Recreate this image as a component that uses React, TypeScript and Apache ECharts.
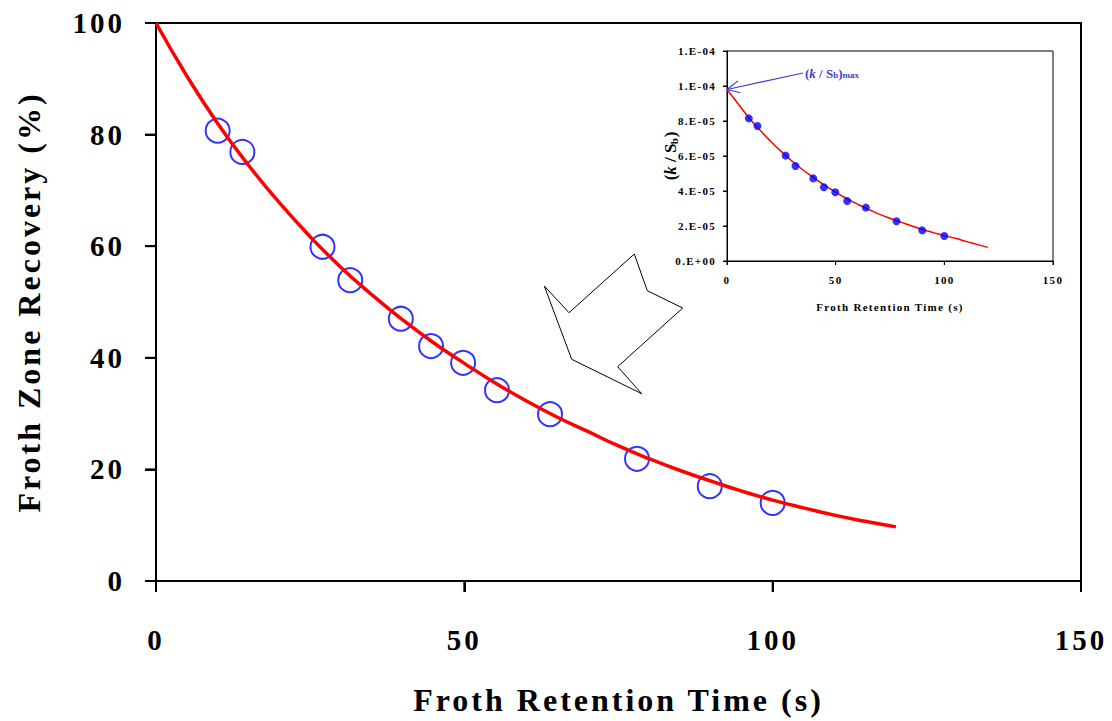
import React, { useEffect, useRef } from "react";
import * as echarts from "echarts";

// Measured points (shared retention times)
const pointTimes = [10, 14, 27, 31.5, 39.7, 44.6, 49.8, 55.3, 63.9, 78, 89.8, 100];
const recoveryPoints = [80.7, 76.9, 59.9, 53.9, 47, 42.1, 39.1, 34.2, 29.9, 21.9, 17, 14];
const kSbPoints = [8.15e-5, 7.71e-5, 6.02e-5, 5.43e-5, 4.72e-5, 4.21e-5, 3.93e-5, 3.43e-5, 3.05e-5, 2.27e-5, 1.75e-5, 1.43e-5];

// Fitted curves
const curveTimes = [0, 5, 10, 15, 20, 25, 30, 35, 40, 45, 50, 55, 60, 65, 70, 75, 80, 85, 90, 95, 100, 105, 110, 115, 120];
const recoveryCurve = [100, 90.5, 82, 74.5, 67.8, 61.7, 56.2, 51.3, 46.8, 42.7, 39, 35.5, 32.3, 29.4, 26.8, 24.2, 21.9, 19.8, 17.9, 16.1, 14.5, 13.1, 11.8, 10.7, 9.7];
const kSbCurve = [9.8e-5, 9.0e-5, 8.2e-5, 7.5e-5, 6.85e-5, 6.25e-5, 5.7e-5, 5.2e-5, 4.75e-5, 4.32e-5, 3.93e-5, 3.57e-5, 3.25e-5, 2.95e-5, 2.68e-5, 2.44e-5, 2.22e-5, 2.0e-5, 1.8e-5, 1.62e-5, 1.45e-5, 1.3e-5, 1.12e-5, 0.95e-5, 0.78e-5];

// Tick values
const xTicks = [0, 50, 100, 150];
const mainYTicks = [0, 20, 40, 60, 80, 100];
const insetYTicks = [0, 2e-5, 4e-5, 6e-5, 8e-5, 1e-4, 1.2e-4];

const xTitle = "Froth Retention Time (s)";
const yTitle = "Froth Zone Recovery (%)";

const FONT = "'Liberation Serif', 'Times New Roman', serif";

function fmtExp(v: number): string {
  const s = v.toExponential(0);
  const [m, e] = s.split("e");
  const n = parseInt(e, 10);
  const abs = Math.abs(n);
  return `${m}.E${n < 0 ? "-" : "+"}${abs < 10 ? "0" + abs : abs}`;
}

export default function App() {
  const ref = useRef<HTMLDivElement>(null);
  useEffect(() => {
    if (!ref.current) return;
    const chart = echarts.init(ref.current, undefined, { renderer: "svg" });
    const richK = {
      p: { fontFamily: FONT, fontWeight: "bold", fontSize: 17, color: "#000" },
      i: { fontFamily: FONT, fontWeight: "bold", fontStyle: "italic", fontSize: 17, color: "#000" },
      s: { fontFamily: FONT, fontWeight: "bold", fontSize: 11, color: "#000", verticalAlign: "bottom", lineHeight: 8 },
    };
    const option: any = {
      animation: false,
      backgroundColor: "#fff",
      grid: [
        { left: 156, top: 23, width: 925, height: 558, outerBoundsMode: "none", containLabel: false, show: true, borderColor: "#000", borderWidth: 2, backgroundColor: "transparent" },
        { left: 727, top: 51, width: 326, height: 210, outerBoundsMode: "none", containLabel: false, show: true, borderColor: "#000", borderWidth: 1, backgroundColor: "#fff", z: 5 },
      ],
      xAxis: [
        {
          type: "value", gridIndex: 0, min: 0, max: 150, interval: 50,
          name: xTitle, nameLocation: "middle", nameGap: 103,
          nameTextStyle: { fontFamily: FONT, fontWeight: "bold", fontSize: 32, color: "#000" },
          axisLine: { onZero: false, lineStyle: { color: "#000", width: 2 } },
          axisTick: { show: true, inside: false, length: 11, lineStyle: { color: "#000", width: 2 } },
          axisLabel: { margin: 44, fontFamily: FONT, fontWeight: "bold", fontSize: 29, color: "#000" },
          splitLine: { show: false },
        },
        {
          type: "value", gridIndex: 1, min: 0, max: 150, interval: 50, z: 6,
          name: xTitle, nameLocation: "middle", nameGap: 40,
          nameTextStyle: { fontFamily: FONT, fontWeight: "bold", fontSize: 11, color: "#000" },
          axisLine: { onZero: false, lineStyle: { color: "#000", width: 1 } },
          axisTick: { show: true, inside: false, length: 4, lineStyle: { color: "#000", width: 1 } },
          axisLabel: { margin: 13, fontFamily: FONT, fontWeight: "bold", fontSize: 11, color: "#000" },
          splitLine: { show: false },
        },
      ],
      yAxis: [
        {
          type: "value", gridIndex: 0, min: 0, max: 100, interval: 20,
          name: yTitle, nameLocation: "middle", nameGap: 111,
          nameTextStyle: { fontFamily: FONT, fontWeight: "bold", fontSize: 32, color: "#000" },
          axisLine: { onZero: false, lineStyle: { color: "#000", width: 2 } },
          axisTick: { show: true, inside: false, length: 11, lineStyle: { color: "#000", width: 2 } },
          axisLabel: { margin: 31, fontFamily: FONT, fontWeight: "bold", fontSize: 29, color: "#000" },
          splitLine: { show: false },
        },
        {
          type: "value", gridIndex: 1, min: 0, max: 1.2e-4, interval: 2e-5, z: 6,
          name: "{p|(}{i|k}{p| / S}{s|b}{p|)}", nameLocation: "middle", nameGap: 29,
          nameTextStyle: { fontFamily: FONT, fontWeight: "bold", fontSize: 17, color: "#000", rich: richK },
          axisLine: { onZero: false, lineStyle: { color: "#000", width: 1 } },
          axisTick: { show: true, inside: false, length: 4, lineStyle: { color: "#000", width: 1 } },
          axisLabel: { margin: 11, fontFamily: FONT, fontWeight: "bold", fontSize: 11, color: "#000", formatter: (v: number) => fmtExp(v) },
          splitLine: { show: false },
        },
      ],
      series: [
        {
          type: "scatter", xAxisIndex: 0, yAxisIndex: 0, z: 2,
          data: pointTimes.map((t, i) => [t, recoveryPoints[i]]),
          symbol: "circle", symbolSize: 24,
          itemStyle: { color: "rgba(0,0,0,0)", borderColor: "#0000ff", borderWidth: 2 },
        },
        {
          type: "line", xAxisIndex: 0, yAxisIndex: 0, z: 3,
          data: curveTimes.map((t, i) => [t, recoveryCurve[i]]),
          showSymbol: false, smooth: true,
          lineStyle: { color: "#ff0000", width: 3.5 },
        },
        {
          type: "line", xAxisIndex: 1, yAxisIndex: 1, z: 7,
          data: curveTimes.map((t, i) => [t, kSbCurve[i]]),
          showSymbol: false, smooth: true,
          lineStyle: { color: "#ff0000", width: 1.5 },
        },
        {
          type: "scatter", xAxisIndex: 1, yAxisIndex: 1, z: 8,
          data: pointTimes.map((t, i) => [t, kSbPoints[i]]),
          symbol: "circle", symbolSize: 8,
          itemStyle: { color: "#0000ff" },
        },
      ],
    };
    chart.setOption(option);

    // Tick marks computed through the axes' own scales
    const ticks: any[] = [];
    xTicks.forEach((v) => {
      const p = chart.convertToPixel({ gridIndex: 0 } as any, [v, 0]) as number[];
      ticks.push({ type: "line", z: 15, shape: { x1: p[0], y1: p[1], x2: p[0], y2: p[1] + 11 }, style: { stroke: "#000", lineWidth: 2 } });
      const q = chart.convertToPixel({ gridIndex: 1 } as any, [v, 0]) as number[];
      ticks.push({ type: "line", z: 15, shape: { x1: q[0], y1: q[1], x2: q[0], y2: q[1] + 4 }, style: { stroke: "#000", lineWidth: 1 } });
    });
    mainYTicks.forEach((v) => {
      const p = chart.convertToPixel({ gridIndex: 0 } as any, [0, v]) as number[];
      ticks.push({ type: "line", z: 15, shape: { x1: p[0] - 11, y1: p[1], x2: p[0], y2: p[1] }, style: { stroke: "#000", lineWidth: 2 } });
    });
    insetYTicks.forEach((v) => {
      const q = chart.convertToPixel({ gridIndex: 1 } as any, [0, v]) as number[];
      ticks.push({ type: "line", z: 15, shape: { x1: q[0] - 4, y1: q[1], x2: q[0], y2: q[1] }, style: { stroke: "#000", lineWidth: 1 } });
    });

    const target = chart.convertToPixel({ gridIndex: 1 } as any, [0, kSbCurve[0]]) as number[];
    const start = [803, 73];
    const dx = target[0] - start[0];
    const dy = target[1] - start[1];
    const len = Math.sqrt(dx * dx + dy * dy);
    const ux = dx / len, uy = dy / len;
    const head = (ang: number) => {
      const c = Math.cos(ang), s = Math.sin(ang);
      const bx = -(ux * c - uy * s), by = -(ux * s + uy * c);
      return [target[0] + bx * 14, target[1] + by * 14];
    };
    const h1 = head(0.45), h2 = head(-0.45);
    const blue = "#3c3cd6";
    chart.setOption({
      graphic: [
        ...ticks,
        {
          type: "polygon", z: 10,
          shape: { points: [[634.3, 254], [647.3, 290.7], [682.7, 308], [617.7, 366.7], [641.7, 393.7], [571.7, 359.3], [544.3, 286], [569, 312.7]] },
          style: { fill: "none", stroke: "#000", lineWidth: 1 },
        },
        { type: "line", z: 20, shape: { x1: start[0], y1: start[1], x2: target[0], y2: target[1] }, style: { stroke: blue, lineWidth: 1.2 } },
        { type: "polyline", z: 20, shape: { points: [h1, target, h2] }, style: { stroke: blue, fill: "none", lineWidth: 1.2 } },
        {
          type: "text", z: 20, x: 805, y: 73,
          style: {
            text: "{p|(}{i|k}{p| / S}{s|b}{p|)}{s|max}",
            verticalAlign: "middle",
            rich: {
              p: { fontFamily: FONT, fontWeight: "bold", fontSize: 13, fill: blue },
              i: { fontFamily: FONT, fontWeight: "bold", fontStyle: "italic", fontSize: 13, fill: blue },
              s: { fontFamily: FONT, fontWeight: "bold", fontSize: 9, fill: blue, verticalAlign: "bottom", lineHeight: 6 },
            },
          },
        },
      ],
    });

    // Widen letter spacing like the original export
    const applySpacing = () => {
      if (!ref.current) return;
      ref.current.querySelectorAll("text").forEach((el) => {
        const fs = parseFloat(getComputedStyle(el).fontSize || "0");
        if (fs >= 28) el.setAttribute("letter-spacing", "3");
        else if (fs === 11) el.setAttribute("letter-spacing", "1.3");
      });
    };
    applySpacing();
    chart.on("finished", applySpacing);
    const timer = setTimeout(applySpacing, 50);
    return () => {
      clearTimeout(timer);
      chart.dispose();
    };
  }, []);
  return <div ref={ref} style={{ position: "fixed", left: 0, top: 0, width: 1112, height: 721 }} />;
}
